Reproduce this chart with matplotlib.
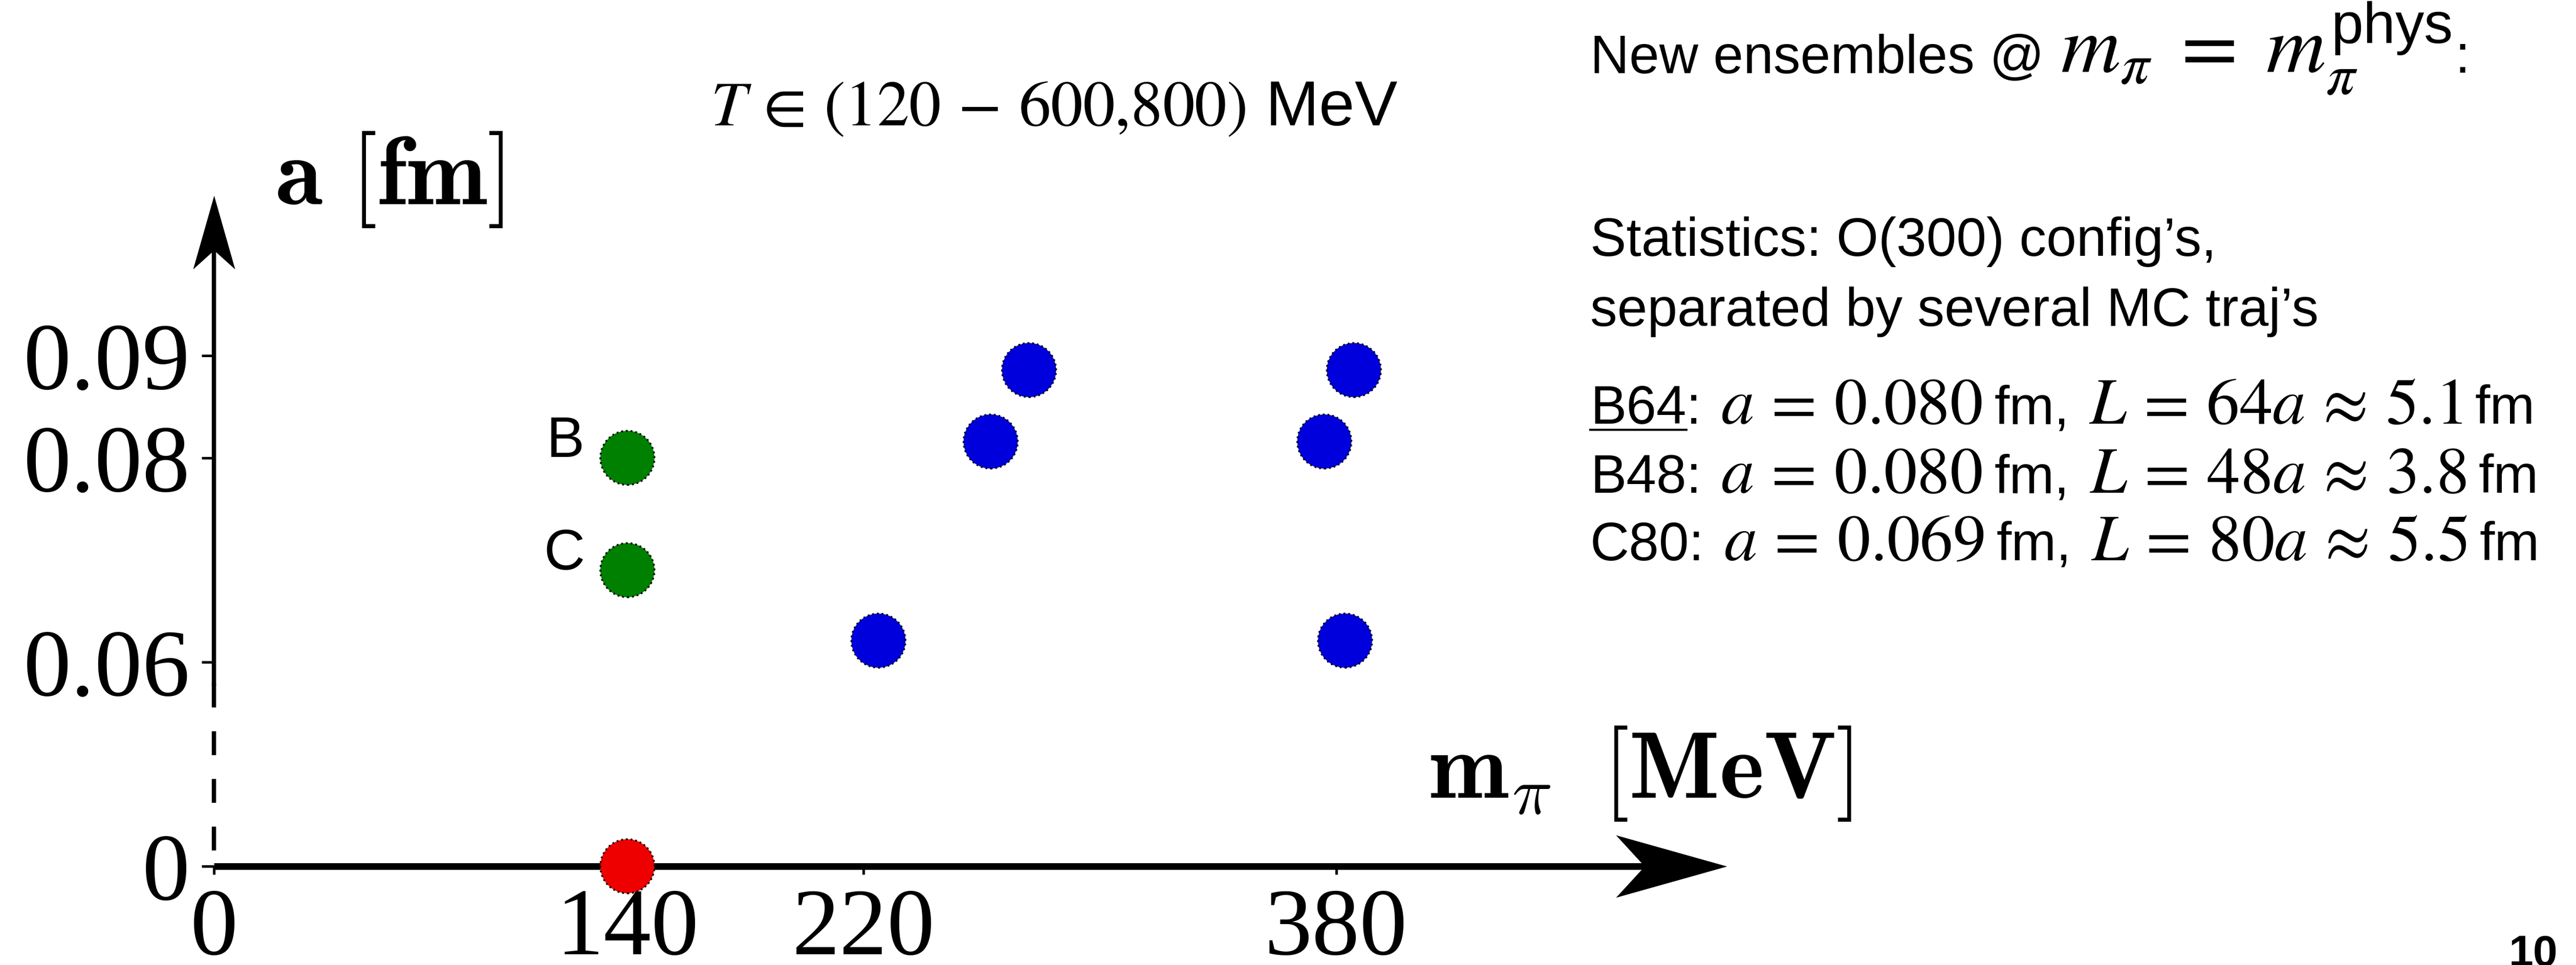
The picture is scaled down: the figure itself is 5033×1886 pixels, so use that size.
import matplotlib
matplotlib.use('Agg')
import matplotlib.pyplot as plt
from matplotlib.path import Path
from matplotlib.font_manager import FontProperties
from matplotlib.lines import Line2D
import numpy as np

plt.rcParams['font.family'] = ['Liberation Sans', 'DejaVu Sans']
plt.rcParams['mathtext.fontset'] = 'stix'
# custom math set, used where an upright sans superscript is needed
plt.rcParams['mathtext.rm'] = 'STIXGeneral'
plt.rcParams['mathtext.it'] = 'STIXGeneral:italic'
plt.rcParams['mathtext.bf'] = 'STIXGeneral:bold'
plt.rcParams['mathtext.sf'] = 'Liberation Sans'
plt.rcParams['mathtext.fallback'] = 'stix'

# ensembles: pion mass [MeV] and lattice spacing [fm]
phys_mpi = [140, 140]
phys_a = [0.080, 0.069]
phys_names = ['B', 'C']
heavy_mpi = [225, 263, 276, 376, 386, 383]
heavy_a = [0.0621, 0.0816, 0.0886, 0.0816, 0.0886, 0.0621]
cont_mpi = [140]
cont_a = [0.0]

xticks = [0, 140, 220, 380]
xtick_labels = ['0', '140', '220', '380']
yticks = [0, 0.06, 0.08, 0.09]
ytick_labels = ['0', '0.06', '0.08', '0.09']

# new physical point ensembles for the side notes
ens_names = ['B64', 'B48', 'C80']
ens_a = [0.080, 0.080, 0.069]
ens_L_over_a = [64, 48, 80]
ens_L_fm = [5.1, 3.8, 5.5]

W, H, DPI = 5033, 1886, 100
fig = plt.figure(figsize=(W / DPI, H / DPI), dpi=DPI)
renderer = fig.canvas.get_renderer()


def fx(x):
    return x / W


def fy(y):
    return 1 - y / H


# broken a-axis: everything below 0.06 is squeezed
Y_BREAK = 0.06
SQUEEZE = 1 / 3


def fwd(y):
    y = np.asarray(y, dtype=float)
    return np.where(y >= Y_BREAK, y, Y_BREAK - (Y_BREAK - y) * SQUEEZE)


def inv(z):
    z = np.asarray(z, dtype=float)
    return np.where(z >= Y_BREAK, z, Y_BREAK - (Y_BREAK - z) / SQUEEZE)


ax = fig.add_axes([fx(418), 1 - 1693 / H, (3374 - 418) / W, (1693 - 382) / H])
ax.patch.set_alpha(0)
ax.set_yscale('function', functions=(fwd, inv))
XMAX, YMAX = 512.3, 0.1057
ax.set_xlim(0, XMAX)
ax.set_ylim(0, YMAX)

for s in ['top', 'right']:
    ax.spines[s].set_visible(False)
ax.spines['left'].set_linewidth(6.1)
ax.spines['left'].set_bounds(0.0537, 0.1018)
ax.spines['bottom'].set_linewidth(9.4)
ax.spines['bottom'].set_bounds(0, 492.5)
ax.spines['bottom'].set_capstyle('butt')

# dashed piece of the a-axis across the break
ax.plot([0, 0], [0.0537, 0], color='k', lw=6.1, ls=(0, (5.5, 5.5)),
        clip_on=False, zorder=2)


def arrow_head(length, half_width, notch, up=True):
    if up:
        verts = [(0, 0), (half_width, -length), (0, -length + notch),
                 (-half_width, -length), (0, 0)]
    else:
        verts = [(0, 0), (-length, half_width), (-length + notch, 0),
                 (-length, -half_width), (0, 0)]
    codes = [Path.MOVETO] + [Path.LINETO] * 3 + [Path.CLOSEPOLY]
    return Path(verts, codes)


ax.plot([0], [YMAX], marker=arrow_head(144, 41, 37, up=True),
        ms=2 * 144 * 0.72, color='k', mew=0, clip_on=False, zorder=6)
ax.plot([XMAX], [0], marker=arrow_head(217, 61, 56, up=False),
        ms=2 * 217 * 0.72, color='k', mew=0, clip_on=False, zorder=6)

ax.set_xticks(xticks)
ax.set_xticklabels(xtick_labels, fontfamily='Liberation Serif')
ax.set_yticks(yticks)
ax.set_yticklabels(ytick_labels, fontfamily='Liberation Serif')
ax.tick_params(axis='x', direction='out', length=11.5, width=3.6, pad=19,
               labelsize=134)
ax.tick_params(axis='y', direction='out', length=17, width=3.6, pad=16.5,
               labelsize=134)
ax.minorticks_off()

pt_kw = dict(s=5800, edgecolors='black', linewidths=2.5, linestyles=':',
             clip_on=False, zorder=7)
ax.scatter(phys_mpi, phys_a, c='#008000', **pt_kw)
ax.scatter(heavy_mpi, heavy_a, c='#0000dd', **pt_kw)
ax.scatter(cont_mpi, cont_a, c='#ee0000', **pt_kw)

for name, xm, ya in zip(phys_names, phys_mpi, phys_a):
    ax.annotate(name, (xm, ya), xytext=(-60, 1), textcoords='offset points',
                ha='right', va='baseline', fontsize=80)

# axis titles
fig.text(fx(537), fy(399), r'$\mathbf{a}\ [\mathbf{fm}]$', math_fontfamily='cm',
         fontsize=136, va='baseline')
fig.text(fx(2791), fy(1559), r'$\mathbf{m}_{\pi}\;\;[\mathbf{MeV}]$',
         math_fontfamily='cm', fontsize=134, va='baseline')

fig.text(fx(1388), fy(245), r'$T \,\in\, (120 \,-\, 600{,}800)$ MeV',
         fontsize=90, va='baseline')

# side notes: plain words in sans, formulas a bit larger
SANS_FS = 76
MATH_FS = 93
TX = 3107


def measure(s, size, mfam='stix'):
    w, _, _ = renderer.get_text_width_height_descent(
        s, FontProperties(family='Liberation Sans', size=size,
                          math_fontfamily=mfam),
        ismath=s.startswith('$'))
    return w


def text_run(x, y, pieces, math_fs=MATH_FS, mfam='stix'):
    """Lay out (string, gap_px) pieces left to right on one baseline."""
    for s, gap in pieces:
        x += gap
        size = math_fs if s.startswith('$') else SANS_FS
        fig.text(fx(x), fy(y), s, fontsize=size, va='baseline',
                 math_fontfamily=mfam)
        x += measure(s, size, mfam)
    return x


text_run(TX, 142, [('New ensembles @', 0),
                   (r'$m_\pi \;=\; m_\pi^{\mathsf{phys}}$', 32),
                   (':', 6)], math_fs=116, mfam='custom')
text_run(TX, 500, [('Statistics: O(300) config\u2019s,', 0)])
text_run(TX, 637, [('separated by several MC traj\u2019s', 0)])

base_y = [828, 963, 1095]
for name, a, n, L, by in zip(ens_names, ens_a, ens_L_over_a, ens_L_fm, base_y):
    text_run(TX, by, [(f'{name}:', 0),
                      (f'$a \\,=\\, {a:.3f}$', 38),
                      ('fm,', 24),
                      (f'$L \\,=\\, {n}a \\,\\approx\\, {L:.1f}$', 38),
                      ('fm', 24)])

# underline the first ensemble name
w_px = measure(ens_names[0], SANS_FS)
uy = fy(base_y[0] + 12)
fig.add_artist(Line2D([fx(TX), fx(TX + w_px)], [uy, uy], color='k', lw=3,
                      transform=fig.transFigure))

# slide number
fig.text(fx(4997), fy(1888), '10', fontsize=62, fontweight='bold', ha='right',
         va='baseline')

fig.savefig('out.png', dpi=DPI, facecolor='white')
